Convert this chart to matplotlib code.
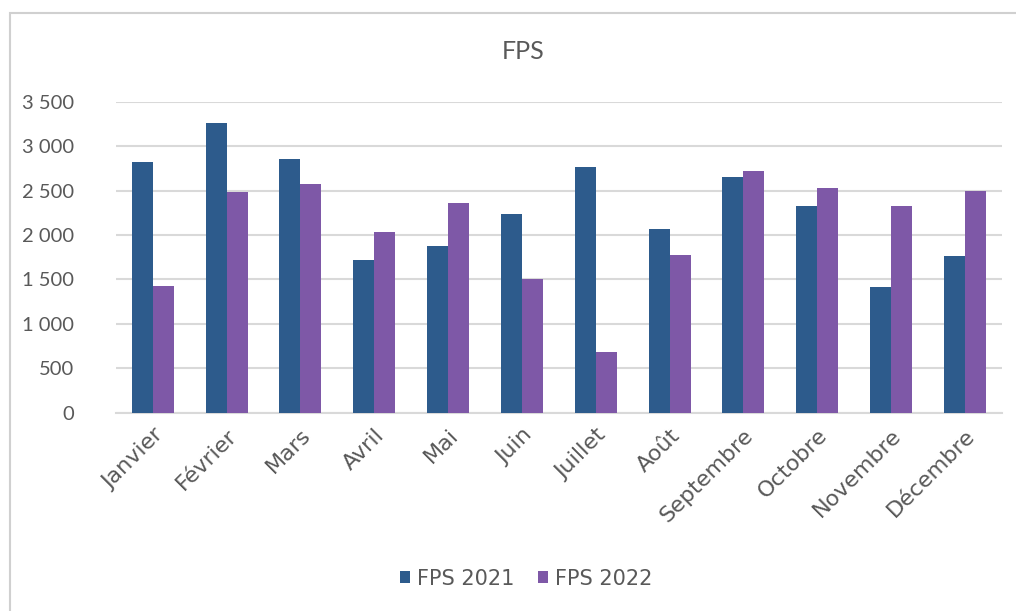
import matplotlib
matplotlib.use("Agg")
import matplotlib.pyplot as plt
import numpy as np
from matplotlib.ticker import FuncFormatter
from matplotlib.patches import Rectangle

months = ["Janvier", "Février", "Mars", "Avril", "Mai", "Juin", "Juillet",
          "Août", "Septembre", "Octobre", "Novembre", "Décembre"]
fps_2021 = [2820, 3265, 2860, 1720, 1880, 2240, 2760, 2065, 2655, 2325, 1415, 1765]
fps_2022 = [1430, 2485, 2570, 2035, 2355, 1500, 680, 1780, 2715, 2525, 2325, 2500]
series_labels = ["FPS 2021", "FPS 2022"]

blue = "#2D5B8C"
purple = "#7E58A7"
text_col = "#595959"
grid_col = "#D9D9D9"

plt.rcParams["font.family"] = ["DejaVu Sans"]

fig = plt.figure(figsize=(10.16, 6.11), dpi=100)
ax = fig.add_axes([0.114, 0.3246, 0.872, 0.509])

# chart-area frame
fig.patches.append(Rectangle((10 / 1016, -0.05), 1.2, 1 - 13 / 611 + 0.05,
                             transform=fig.transFigure, fill=False,
                             edgecolor="#D0D0D0", linewidth=1.5))

x = np.arange(len(months))
w = 0.285
ax.bar(x - w / 2, fps_2021, w, color=blue, label=series_labels[0], zorder=3)
ax.bar(x + w / 2, fps_2022, w, color=purple, label=series_labels[1], zorder=3)

ax.set_xlim(-0.5, len(months) - 0.5)
ax.set_ylim(0, 3500)
ax.set_yticks(np.arange(0, 3501, 500))
ax.yaxis.set_major_formatter(FuncFormatter(lambda v, p: f"{int(v):,}".replace(",", " ")))
ax.grid(axis="y", color=grid_col, linewidth=1.5, zorder=0)
ax.set_axisbelow(True)

for s in ["top", "right", "left"]:
    ax.spines[s].set_visible(False)
ax.spines["bottom"].set_color(grid_col)
ax.spines["bottom"].set_linewidth(1.5)

ax.set_xticks(x)
ax.set_xticklabels(months, rotation=45, ha="right", rotation_mode="anchor")
ax.tick_params(axis="both", length=0, labelcolor=text_col)
ax.tick_params(axis="y", labelsize=14, pad=30)
ax.tick_params(axis="x", labelsize=16, pad=9)
for lbl in ax.get_yticklabels():
    lbl.set_family("Lato")
    lbl.set_fontsize(14.5)

fig.text(0.515, 0.915, "FPS", ha="center", va="center", fontsize=18,
         color=text_col, family="Lato")

fig.legend(loc="center", bbox_to_anchor=(0.518, 0.053), ncol=2, frameon=False,
           fontsize=15, labelcolor=text_col, handlelength=0.5, handleheight=0.5,
           handletextpad=0.35, columnspacing=1.1)

fig.savefig("out.png", dpi=100, facecolor="white")
